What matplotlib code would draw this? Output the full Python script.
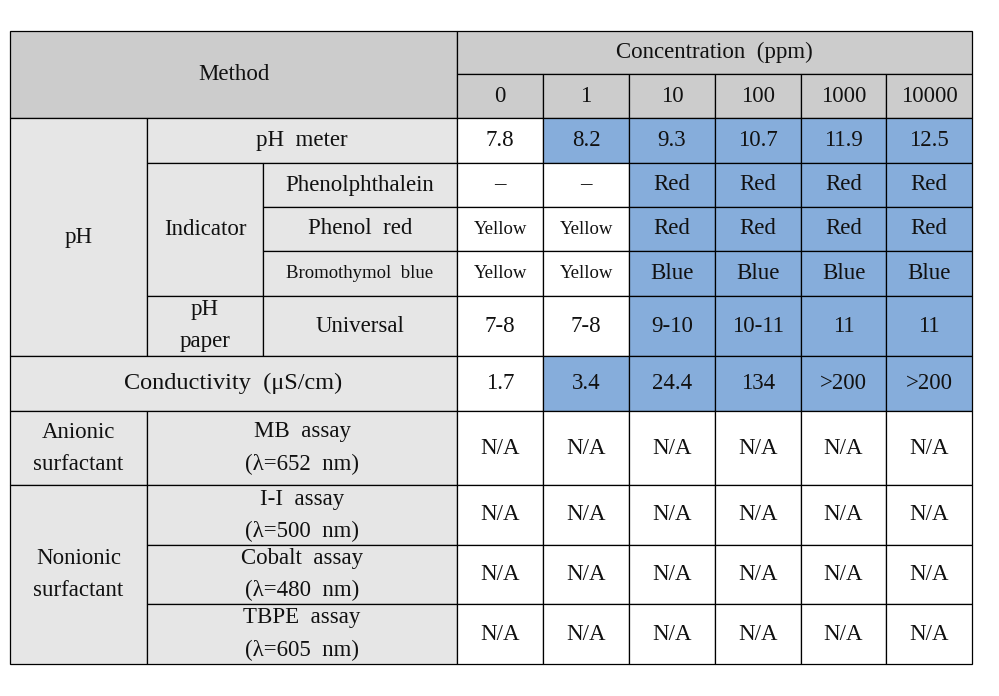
import matplotlib.pyplot as plt
from matplotlib.patches import Rectangle

# table content
concentrations = ['0', '1', '10', '100', '1000', '10000']
ph_meter = ['7.8', '8.2', '9.3', '10.7', '11.9', '12.5']
phenolphthalein = ['–', '–', 'Red', 'Red', 'Red', 'Red']
phenol_red = ['Yellow', 'Yellow', 'Red', 'Red', 'Red', 'Red']
bromothymol_blue = ['Yellow', 'Yellow', 'Blue', 'Blue', 'Blue', 'Blue']
universal = ['7-8', '7-8', '9-10', '10-11', '11', '11']
conductivity = ['1.7', '3.4', '24.4', '134', '>200', '>200']
mb_assay = ['N/A', 'N/A', 'N/A', 'N/A', 'N/A', 'N/A']
ii_assay = ['N/A', 'N/A', 'N/A', 'N/A', 'N/A', 'N/A']
cobalt_assay = ['N/A', 'N/A', 'N/A', 'N/A', 'N/A', 'N/A']
tbpe_assay = ['N/A', 'N/A', 'N/A', 'N/A', 'N/A', 'N/A']

# value rows in order, with the first column index that is shaded blue (None = no shading)
value_rows = [ph_meter, phenolphthalein, phenol_red, bromothymol_blue, universal,
              conductivity, mb_assay, ii_assay, cobalt_assay, tbpe_assay]
shade_from = [1, 2, 2, 2, 2, 1, None, None, None, None]

# layout (pixels)
xs = [10, 147, 263, 457, 543, 629, 715, 801, 886, 972]
ys = [31, 74, 118, 163, 207, 251, 296, 356, 411, 485, 545, 604, 664]

HEAD = '#cccccc'
LABEL = '#e6e6e6'
BLUE = '#86addb'
WHITE = '#ffffff'
INK = '#111111'
FONT = 'Liberation Serif'

fig = plt.figure(figsize=(9.99, 6.96), dpi=100)
ax = fig.add_axes([0, 0, 1, 1])
ax.set_xlim(0, 999)
ax.set_ylim(696, 0)
ax.axis('off')


def cell(x0, x1, y0, y1, fc, lines=(), size=16.5):
    ax.add_patch(Rectangle((x0, y0), x1 - x0, y1 - y0, facecolor=fc,
                           edgecolor='black', linewidth=0.9))
    cx = (x0 + x1) / 2
    cy = (y0 + y1) / 2
    n = len(lines)
    for i, t in enumerate(lines):
        off = (i - (n - 1) / 2) * 32
        ax.text(cx, cy + off, t, ha='center', va='center', fontsize=size,
                family=FONT, color=INK)


# header
cell(xs[0], xs[3], ys[0], ys[2], HEAD, ['Method'])
cell(xs[3], xs[9], ys[0], ys[1], HEAD, ['Concentration  (ppm)'])
for j, c in enumerate(concentrations):
    cell(xs[3 + j], xs[4 + j], ys[1], ys[2], HEAD, [c])

# row labels
cell(xs[0], xs[1], ys[2], ys[7], LABEL, ['pH'])
cell(xs[1], xs[3], ys[2], ys[3], LABEL, ['pH  meter'])
cell(xs[1], xs[2], ys[3], ys[6], LABEL, ['Indicator'])
cell(xs[2], xs[3], ys[3], ys[4], LABEL, ['Phenolphthalein'])
cell(xs[2], xs[3], ys[4], ys[5], LABEL, ['Phenol  red'])
cell(xs[2], xs[3], ys[5], ys[6], LABEL, ['Bromothymol  blue'], size=13.5)
cell(xs[1], xs[2], ys[6], ys[7], LABEL, ['pH', 'paper'])
cell(xs[2], xs[3], ys[6], ys[7], LABEL, ['Universal'])
cell(xs[0], xs[3], ys[7], ys[8], LABEL, ['Conductivity  (μS/cm)'], size=17.5)
cell(xs[0], xs[1], ys[8], ys[9], LABEL, ['Anionic', 'surfactant'])
cell(xs[1], xs[3], ys[8], ys[9], LABEL, ['MB  assay', '(λ=652  nm)'])
cell(xs[0], xs[1], ys[9], ys[12], LABEL, ['Nonionic', 'surfactant'])
cell(xs[1], xs[3], ys[9], ys[10], LABEL, ['I-I  assay', '(λ=500  nm)'])
cell(xs[1], xs[3], ys[10], ys[11], LABEL, ['Cobalt  assay', '(λ=480  nm)'])
cell(xs[1], xs[3], ys[11], ys[12], LABEL, ['TBPE  assay', '(λ=605  nm)'])

# value cells
for r, (vals, start) in enumerate(zip(value_rows, shade_from)):
    y0, y1 = ys[2 + r], ys[3 + r]
    for j, v in enumerate(vals):
        fc = BLUE if start is not None and j >= start else WHITE
        size = 13.5 if v == 'Yellow' else 16.5
        cell(xs[3 + j], xs[4 + j], y0, y1, fc, [v], size=size)

fig.savefig('out.png', dpi=100)
